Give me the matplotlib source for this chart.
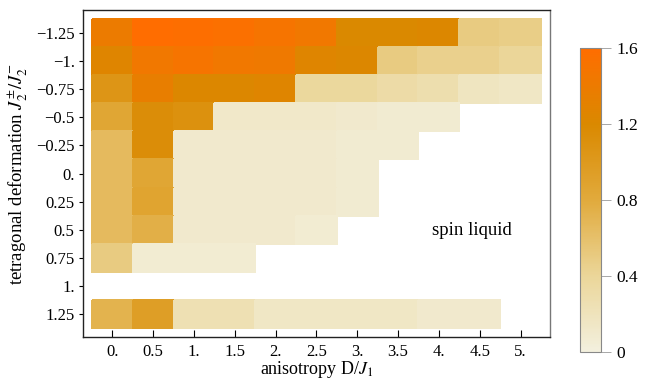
import numpy as np
import matplotlib.pyplot as plt
from matplotlib.colors import LinearSegmentedColormap

plt.rcParams['font.family'] = ['Liberation Serif', 'DejaVu Serif']
plt.rcParams['mathtext.fontset'] = 'stix'
plt.rcParams['axes.unicode_minus'] = True

# anisotropy D/J1 (columns) and tetragonal deformation (rows)
D_vals = [0, 0.5, 1, 1.5, 2, 2.5, 3, 3.5, 4, 4.5, 5]
J_vals = [-1.25, -1, -0.75, -0.5, -0.25, 0, 0.25, 0.5, 0.75, 1, 1.25]
x_labels = ['0.', '0.5', '1.', '1.5', '2.', '2.5', '3.', '3.5', '4.', '4.5', '5.']
y_labels = ['\u22121.25', '\u22121.', '\u22120.75', '\u22120.5', '\u22120.25',
            '0.', '0.25', '0.5', '0.75', '1.', '1.25']
nan = np.nan
# order parameter, rows follow J_vals, columns follow D_vals
Z = [
    [1.40, 1.60, 1.58, 1.55, 1.50, 1.45, 1.20, 1.20, 1.22, 0.50, 0.48],
    [1.25, 1.45, 1.50, 1.45, 1.42, 1.25, 1.22, 0.50, 0.45, 0.45, 0.40],
    [1.05, 1.35, 1.22, 1.22, 1.25, 0.38, 0.38, 0.32, 0.28, 0.18, 0.15],
    [0.85, 1.15, 1.10, 0.12, 0.12, 0.12, 0.10, 0.08, 0.08, nan, nan],
    [0.65, 1.15, 0.10, 0.10, 0.10, 0.10, 0.08, 0.08, nan, nan, nan],
    [0.65, 0.85, 0.10, 0.10, 0.10, 0.10, 0.08, nan, nan, nan, nan],
    [0.65, 0.88, 0.10, 0.10, 0.10, 0.10, 0.08, nan, nan, nan, nan],
    [0.65, 0.75, 0.10, 0.10, 0.10, 0.07, nan, nan, nan, nan, nan],
    [0.50, 0.07, 0.07, 0.07, nan, nan, nan, nan, nan, nan, nan],
    [nan, nan, nan, nan, nan, nan, nan, nan, nan, nan, nan],
    [0.72, 0.95, 0.25, 0.25, 0.15, 0.15, 0.15, 0.15, 0.10, 0.10, nan],
]

cmap = LinearSegmentedColormap.from_list('sunset', [
    (0.0, '#F3F0DE'),
    (0.25, '#EBD699'),
    (0.5, '#E1AA3C'),
    (0.75, '#DA8900'),
    (1.0, '#FF6D00'),
])

fig = plt.figure(figsize=(6.57, 3.82), dpi=100)
ax = fig.add_axes([0.1263, 0.1178, 0.7107, 0.856])
Zm = np.ma.masked_invalid(np.array(Z))
mesh = ax.pcolormesh(np.array(D_vals), np.array(J_vals), Zm, cmap=cmap,
                     vmin=0, vmax=1.6, shading='nearest',
                     edgecolor='face', linewidth=0.3)
ax.set_xlim(-0.36, 5.36)
ax.set_ylim(1.455, -1.455)
ax.set_xticks(D_vals)
ax.set_xticklabels(x_labels)
ax.set_yticks(J_vals)
ax.set_yticklabels(y_labels)
ax.tick_params(axis='x', direction='in', length=5, labelsize=12, pad=5)
ax.tick_params(axis='y', direction='out', length=3, labelsize=12, pad=3)
for s in ['left', 'bottom', 'top']:
    ax.spines[s].set_color('#222222')
ax.spines['right'].set_color('#777777')
for s in ax.spines.values():
    s.set_linewidth(1.0)

ax.set_xlabel('anisotropy D/$J_1$', fontsize=13)
ax.xaxis.set_label_coords(0.5, -0.068)
ax.set_ylabel('tetragonal deformation $J_2^{\\pm}/J_2^{-}$', fontsize=13.5, labelpad=4)
ax.text(4.4, 0.51, 'spin liquid', fontsize=13.5, ha='center', va='center')

cax = fig.add_axes([0.8828, 0.0785, 0.032, 0.796])
cb = fig.colorbar(mesh, cax=cax, ticks=[0, 0.4, 0.8, 1.2, 1.6])
cb.ax.set_yticklabels(['0', '0.4', '0.8', '1.2', '1.6'])
cb.ax.tick_params(labelsize=12.5, length=7, width=0.6, color='#999999', pad=4)
cb.outline.set_edgecolor('#888888')
cb.outline.set_linewidth(0.8)

fig.savefig('out.png', dpi=100)
